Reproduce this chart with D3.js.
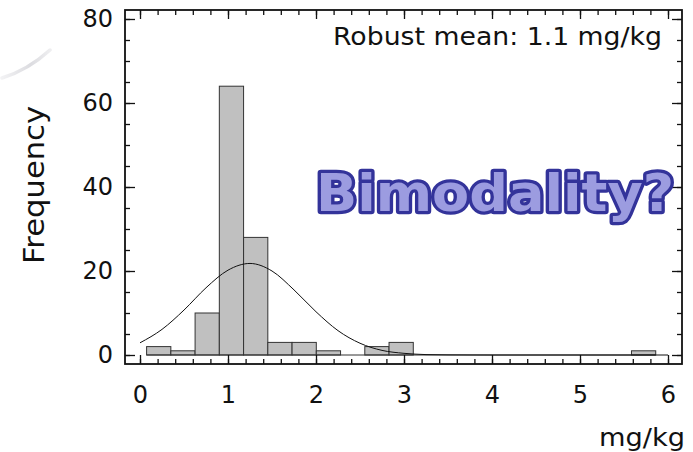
<!DOCTYPE html>
<html>
<head>
<meta charset="utf-8">
<script src="https://cdn.jsdelivr.net/npm/d3@7"></script>
<style>
  html, body { margin: 0; padding: 0; background: #fff; }
  svg { display: block; }
  text { font-family: "DejaVu Sans", sans-serif; fill: #111; }
</style>
</head>
<body>
<script>
// ---- data ----
const binStart = 0.075;            // left edge of first bin (mg/kg)
const binWidth = 0.2755;           // bin width (mg/kg)
const counts = [2, 1, 10, 64, 28, 3, 3, 1, 0, 2, 3, 0, 0, 0, 0, 0, 0, 0, 0, 0, 1];
// fitted normal curve
const curveX = [0, 0.25, 0.5, 0.75, 1.0, 1.25, 1.5, 1.75, 2.0, 2.25, 2.5, 2.75, 3.0, 3.25, 3.5, 3.75, 4.0, 4.5, 5.0, 5.5, 6.0];
const curveY = [2.9, 6.1, 10.7, 16.0, 20.2, 21.8, 20.0, 15.5, 10.3, 5.8, 2.8, 1.1, 0.4, 0.1, 0.03, 0.01, 0, 0, 0, 0, 0];
const xMajor = [0, 1, 2, 3, 4, 5, 6];
const xMinor = d3.range(0, 6.001, 0.2);
const yMajor = [0, 20, 40, 60, 80];
const yMinor = d3.range(0, 80.001, 5);
const annotation = "Robust mean: 1.1 mg/kg";
const bigLabel = "Bimodality?";
const xTitle = "mg/kg";
const yTitle = "Frequency";

const W = 693, H = 452;
const frame = { left: 125, right: 682, top: 10, bottom: 364 };

const svg = d3.select("body").append("svg").attr("width", W).attr("height", H);

// faint decorative swoosh at top-left
const grad = svg.append("defs").append("linearGradient").attr("id", "sw")
  .attr("x1", "0").attr("x2", "1").attr("y1", "0").attr("y2", "0");
grad.append("stop").attr("offset", "0").attr("stop-color", "#f2f2f4");
grad.append("stop").attr("offset", "0.6").attr("stop-color", "#dcdce0");
grad.append("stop").attr("offset", "1").attr("stop-color", "#eeeef0");
svg.append("path")
  .attr("d", "M2,78 Q28,70 50,50")
  .attr("fill", "none").attr("stroke", "url(#sw)").attr("stroke-width", 3.5).attr("stroke-linecap", "round");

const x = d3.scaleLinear().domain([0, 6]).range([140, 668]);
const y = d3.scaleLinear().domain([0, 80]).range([355, 19]);

// bars
const bins = counts.map((c, i) => ({ x0: binStart + i * binWidth, x1: binStart + (i + 1) * binWidth, c }));
svg.append("g").selectAll("rect").data(bins.filter(d => d.c > 0)).join("rect")
  .attr("x", d => x(d.x0)).attr("width", d => x(d.x1) - x(d.x0))
  .attr("y", d => y(d.c)).attr("height", d => y(0) - y(d.c))
  .attr("fill", "#c0c0c0").attr("stroke", "#333").attr("stroke-width", 1);
// baseline along zero
svg.append("line").attr("x1", x(binStart)).attr("x2", x(binStart + counts.length * binWidth))
  .attr("y1", y(0)).attr("y2", y(0)).attr("stroke", "#333").attr("stroke-width", 1);

// curve
const pts = curveX.map((v, i) => [v, curveY[i]]);
svg.append("path").datum(pts)
  .attr("d", d3.line().x(d => x(d[0])).y(d => y(d[1])).curve(d3.curveMonotoneX))
  .attr("fill", "none").attr("stroke", "#111").attr("stroke-width", 1);

// axes
function styleAxis(g) {
  g.select(".domain").remove();
  g.selectAll(".tick line").attr("stroke", "#111").attr("stroke-width", 1.3);
  g.selectAll(".tick text").attr("font-size", 24).attr("font-family", "DejaVu Sans").attr("fill", "#111");
}
svg.append("g").attr("transform", `translate(0,${frame.bottom})`)
  .call(d3.axisBottom(x).tickValues(xMajor).tickSize(-9).tickPadding(22).tickFormat(d3.format("d"))).call(styleAxis);
svg.append("g").attr("transform", `translate(0,${frame.bottom})`)
  .call(d3.axisBottom(x).tickValues(xMinor).tickSize(-5).tickFormat("")).call(styleAxis);
svg.append("g").attr("transform", `translate(0,${frame.top})`)
  .call(d3.axisTop(x).tickValues(xMajor).tickSize(-9).tickFormat("")).call(styleAxis);
svg.append("g").attr("transform", `translate(0,${frame.top})`)
  .call(d3.axisTop(x).tickValues(xMinor).tickSize(-5).tickFormat("")).call(styleAxis);
svg.append("g").attr("transform", `translate(${frame.left},0)`)
  .call(d3.axisLeft(y).tickValues(yMajor).tickSize(-10).tickPadding(12).tickFormat(d3.format("d"))).call(styleAxis);
svg.append("g").attr("transform", `translate(${frame.left},0)`)
  .call(d3.axisLeft(y).tickValues(yMinor).tickSize(-5).tickFormat("")).call(styleAxis);
svg.append("g").attr("transform", `translate(${frame.right},0)`)
  .call(d3.axisRight(y).tickValues(yMajor).tickSize(-10).tickFormat("")).call(styleAxis);
svg.append("g").attr("transform", `translate(${frame.right},0)`)
  .call(d3.axisRight(y).tickValues(yMinor).tickSize(-5).tickFormat("")).call(styleAxis);

// frame
svg.append("rect").attr("x", frame.left).attr("y", frame.top)
  .attr("width", frame.right - frame.left).attr("height", frame.bottom - frame.top)
  .attr("fill", "none").attr("stroke", "#111").attr("stroke-width", 1.8);

// annotation
svg.append("text").attr("x", 662).attr("y", 45).attr("text-anchor", "end")
  .attr("font-size", 24).attr("textLength", 329).attr("lengthAdjust", "spacingAndGlyphs").text(annotation);

// big label
svg.append("text").attr("x", 316).attr("y", 211)
  .attr("font-family", "DejaVu Sans").attr("font-weight", "bold").attr("font-size", 52)
  .attr("textLength", 358).attr("lengthAdjust", "spacingAndGlyphs")
  .attr("stroke", "#33339a").attr("stroke-width", 6.5)
  .attr("stroke-linejoin", "round").attr("paint-order", "stroke")
  .style("fill", "#9c9ce0").text(bigLabel);

// axis titles
svg.append("text").attr("x", 685).attr("y", 446).attr("text-anchor", "end")
  .attr("font-size", 25).attr("textLength", 86).attr("lengthAdjust", "spacingAndGlyphs").text(xTitle);
svg.append("text").attr("transform", "translate(44,185) rotate(-90)").attr("text-anchor", "middle")
  .attr("font-size", 28).attr("textLength", 158).attr("lengthAdjust", "spacingAndGlyphs").text(yTitle);
</script>
</body>
</html>
